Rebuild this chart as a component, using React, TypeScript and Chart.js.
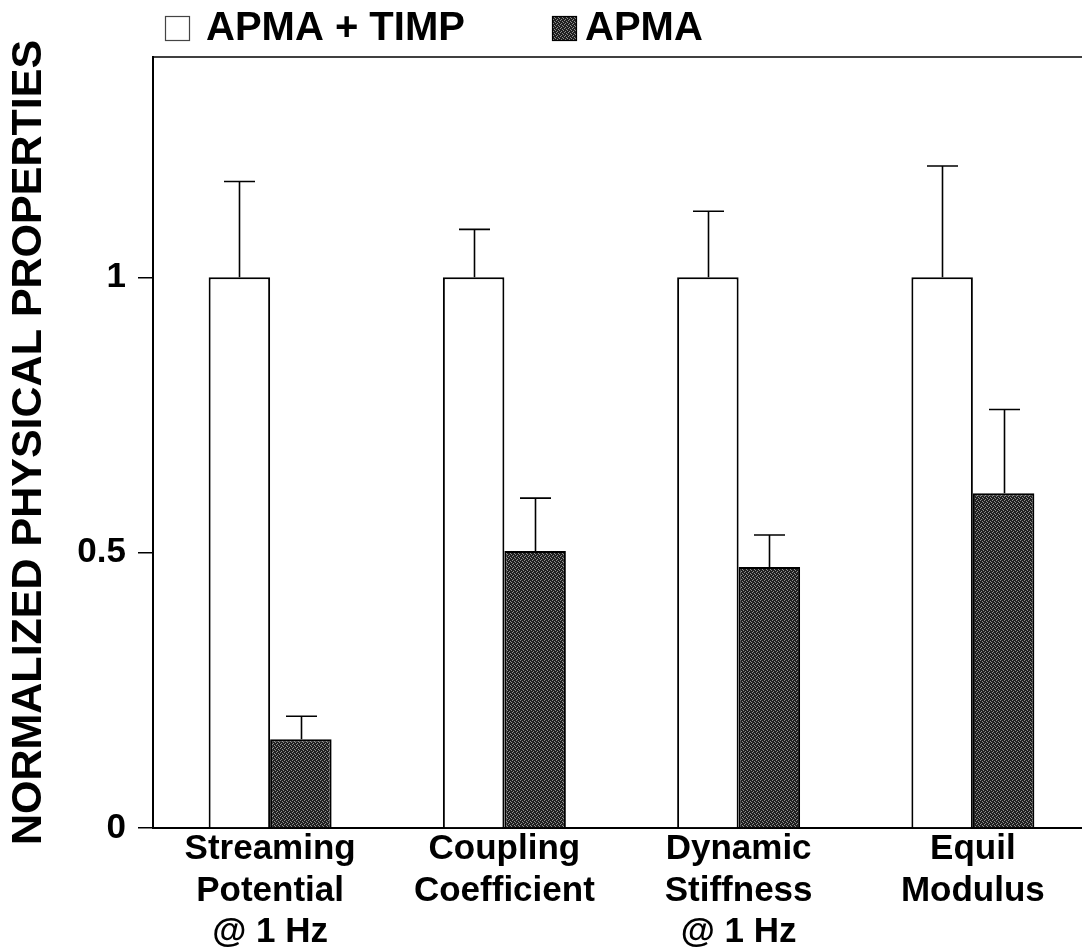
import React, { useEffect, useRef } from "react";
import { Chart, registerables } from "chart.js";

Chart.register(...registerables);

const categories: string[][] = [
  ["Streaming", "Potential", "@ 1 Hz"],
  ["Coupling", "Coefficient"],
  ["Dynamic", "Stiffness", "@ 1 Hz"],
  ["Equil", "Modulus"],
];
const seriesNames = ["APMA + TIMP", "APMA"];
const timpValues = [1, 1, 1, 1];
const timpErrors = [0.174, 0.087, 0.12, 0.202];
const apmaValues = [0.161, 0.503, 0.474, 0.608];
const apmaErrors = [0.042, 0.096, 0.058, 0.152];
const yTickValues = [0, 0.5, 1];
const yTickLabels = ["0", "0.5", "1"];
const yMax = 1.4;
const yTitle = "NORMALIZED PHYSICAL PROPERTIES";

const FONT = '"Liberation Sans", Arial, Helvetica, sans-serif';

function makePattern(): CanvasPattern | string {
  const c = document.createElement("canvas");
  c.width = 4;
  c.height = 4;
  const g = c.getContext("2d");
  if (!g) return "#3a3a3a";
  g.fillStyle = "#202020";
  g.fillRect(0, 0, 4, 4);
  g.fillStyle = "#8e8e8e";
  [[0, 0], [2, 1], [1, 3], [3, 2]].forEach(([x, y]) => g.fillRect(x, y, 1, 1));
  const p = g.createPattern(c, "repeat");
  return p || "#3a3a3a";
}

export default function App() {
  const ref = useRef<HTMLCanvasElement | null>(null);

  useEffect(() => {
    document.body.style.margin = "0";
    const canvas = ref.current;
    if (!canvas) return;
    const pattern = makePattern();
    const errors = [timpErrors, apmaErrors];

    const errorBars = {
      id: "errorBars",
      afterDatasetsDraw(chart: any) {
        const ctx = chart.ctx;
        const ys = chart.scales.y;
        ctx.save();
        ctx.strokeStyle = "#000";
        ctx.lineWidth = 1.6;
        chart.data.datasets.forEach((ds: any, i: number) => {
          const meta = chart.getDatasetMeta(i);
          meta.data.forEach((el: any, j: number) => {
            const v = ds.data[j] + errors[i][j];
            const yTop = ys.getPixelForValue(v);
            const x = Math.round(el.x) + 0.5;
            ctx.beginPath();
            ctx.moveTo(x, el.y);
            ctx.lineTo(x, yTop);
            ctx.moveTo(x - 15.5, yTop);
            ctx.lineTo(x + 15.5, yTop);
            ctx.stroke();
          });
        });
        ctx.restore();
      },
    };

    const frameAndLegend = {
      id: "frameAndLegend",
      afterDraw(chart: any) {
        const ctx = chart.ctx;
        const a = chart.chartArea;
        ctx.save();
        ctx.strokeStyle = "#000";
        ctx.lineWidth = 1.6;
        ctx.beginPath();
        ctx.moveTo(a.left, a.top);
        ctx.lineTo(chart.width, a.top);
        ctx.stroke();
        // legend
        const items = [
          { box: 165, text: 206 },
          { box: 552, text: 585 },
        ];
        ctx.font = `bold 40px ${FONT}`;
        ctx.textBaseline = "middle";
        chart.data.datasets.forEach((ds: any, i: number) => {
          const it = items[i];
          ctx.fillStyle = ds.backgroundColor;
          ctx.fillRect(it.box, 16, 24, 24);
          ctx.lineWidth = 1.2;
          ctx.strokeStyle = i === 0 ? "#444" : "#000";
          ctx.strokeRect(it.box + 0.5, 16.5, 24, 24);
          ctx.fillStyle = "#000";
          ctx.fillText(ds.label, it.text, 29);
        });
        ctx.restore();
      },
    };

    const chart = new Chart(canvas, {
      type: "bar",
      data: {
        labels: categories,
        datasets: [
          {
            label: seriesNames[0],
            data: timpValues,
            backgroundColor: "#ffffff",
            borderColor: "#000000",
            borderWidth: 2,
          },
          {
            label: seriesNames[1],
            data: apmaValues,
            backgroundColor: pattern as any,
            borderColor: "#000000",
            borderWidth: 2,
          },
        ],
      },
      options: {
        animation: false,
        responsive: false,
        devicePixelRatio: 1,
        datasets: {
          bar: { categoryPercentage: 0.525, barPercentage: 1.0 },
        },
        layout: { padding: { top: 57, left: 0, right: 0, bottom: 0 } },
        plugins: {
          legend: { display: false },
          tooltip: { enabled: false },
        },
        scales: {
          x: {
            grid: { display: false, drawTicks: false },
            border: { display: true, color: "#000", width: 2 },
            ticks: {
              color: "#000",
              padding: 1,
              maxRotation: 0,
              autoSkip: false,
              font: { family: FONT, size: 35, weight: "bold", lineHeight: 1.18 },
            },
            afterFit(scale: any) {
              scale.height = 122;
            },
          },
          y: {
            min: 0,
            max: yMax,
            grid: {
              drawOnChartArea: false,
              drawTicks: true,
              tickLength: 15,
              color: "#000",
              lineWidth: 1.5,
            },
            border: { display: true, color: "#000", width: 2 },
            ticks: {
              color: "#000",
              padding: 12,
              font: { family: FONT, size: 35, weight: "bold" },
              callback: (v: any) => {
                const idx = yTickValues.indexOf(Number(v));
                return idx >= 0 ? yTickLabels[idx] : "";
              },
            },
            afterBuildTicks(scale: any) {
              scale.ticks = yTickValues.map((v) => ({ value: v }));
            },
            afterFit(scale: any) {
              scale.width = 153;
            },
            title: {
              display: true,
              text: yTitle,
              color: "#000",
              padding: { top: 3, bottom: 0 },
              font: { family: FONT, size: 43, weight: "bold", lineHeight: 1.2 },
            },
          },
        },
      },
      plugins: [errorBars, frameAndLegend],
    });

    return () => chart.destroy();
  }, []);

  return (
    <div style={{ width: 1082, height: 950, overflow: "hidden", position: "relative", background: "#fff" }}>
      <canvas ref={ref} width={1090} height={950} style={{ display: "block", width: 1090, height: 950 }} />
    </div>
  );
}
